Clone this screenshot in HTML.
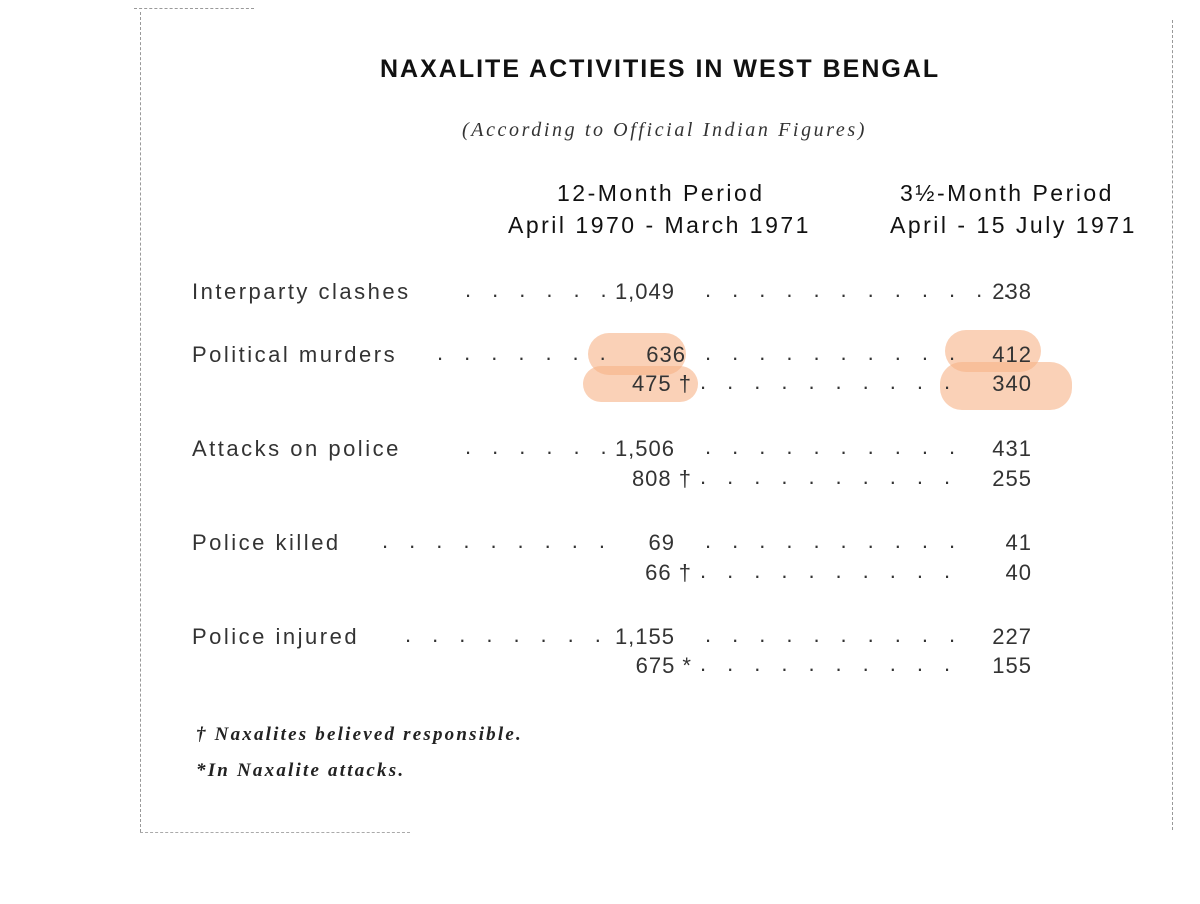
<!DOCTYPE html>
<html><head><meta charset="utf-8">
<style>
body{margin:0;width:1200px;height:904px;background:#fff;position:relative;overflow:hidden;font-family:"Liberation Sans",sans-serif;color:#222}
.a{position:absolute;white-space:nowrap}
.t{font-weight:bold;font-size:25px;letter-spacing:2px;color:#111}
.sub{font-family:"Liberation Serif",serif;font-style:italic;font-size:20px;letter-spacing:2.6px;color:#333}
.h{font-size:23px;letter-spacing:2.5px;color:#111}
.l{font-size:22px;letter-spacing:2.5px;color:#333}
.v{font-size:22px;letter-spacing:1px;color:#333;text-align:right}
.d{font-size:22px;color:#333;letter-spacing:21px}
.f{font-family:"Liberation Serif",serif;font-style:italic;font-weight:bold;font-size:19px;letter-spacing:2.2px;color:#222}
.hl{position:absolute;background:rgba(246,178,135,0.6);border-radius:22px}
.bl{position:absolute;border-left:1px dashed #999}
</style></head><body>
<div class="bl" style="left:140px;top:12px;height:820px"></div>
<div class="bl" style="left:1172px;top:20px;height:810px"></div>
<div class="a" style="left:134px;top:8px;width:120px;border-top:1px dashed #999"></div>
<div class="a" style="left:140px;top:832px;width:270px;border-top:1px dashed #aaa"></div>

<div class="hl" style="left:588px;top:333px;width:98px;height:42px"></div>
<div class="hl" style="left:583px;top:366px;width:115px;height:36px"></div>
<div class="hl" style="left:945px;top:330px;width:96px;height:42px"></div>
<div class="hl" style="left:940px;top:362px;width:132px;height:48px"></div>

<div class="a t" style="left:380px;top:55px">NAXALITE ACTIVITIES IN WEST BENGAL</div>
<div class="a sub" style="left:462px;top:119px">(According to Official Indian Figures)</div>
<div class="a h" style="left:557px;top:180px">12-Month Period</div>
<div class="a h" style="left:508px;top:212px">April 1970 - March 1971</div>
<div class="a h" style="left:900px;top:180px">3½-Month Period</div>
<div class="a h" style="left:890px;top:212px">April - 15 July 1971</div>

<div class="a l" style="left:192px;top:279px">Interparty clashes</div>
<div class="a d" style="left:465px;top:277px">......</div>
<div class="a v" style="left:560px;width:115px;top:279px">1,049</div>
<div class="a d" style="left:705px;top:277px">............</div>
<div class="a v" style="left:940px;width:92px;top:279px">238</div>

<div class="a l" style="left:192px;top:342px">Political murders</div>
<div class="a d" style="left:437px;top:340px">.......</div>
<div class="a v" style="left:560px;width:126px;top:342px">636</div>
<div class="a d" style="left:705px;top:340px">..........</div>
<div class="a v" style="left:940px;width:92px;top:342px">412</div>
<div class="a v" style="left:560px;width:132px;top:371px">475 †</div>
<div class="a d" style="left:700px;top:369px">..........</div>
<div class="a v" style="left:940px;width:92px;top:371px">340</div>

<div class="a l" style="left:192px;top:436px">Attacks on police</div>
<div class="a d" style="left:465px;top:434px">......</div>
<div class="a v" style="left:560px;width:115px;top:436px">1,506</div>
<div class="a d" style="left:705px;top:434px">..........</div>
<div class="a v" style="left:940px;width:92px;top:436px">431</div>
<div class="a v" style="left:560px;width:132px;top:466px">808 †</div>
<div class="a d" style="left:700px;top:464px">..........</div>
<div class="a v" style="left:940px;width:92px;top:466px">255</div>

<div class="a l" style="left:192px;top:530px">Police killed</div>
<div class="a d" style="left:382px;top:528px">.........</div>
<div class="a v" style="left:560px;width:115px;top:530px">69</div>
<div class="a d" style="left:705px;top:528px">..........</div>
<div class="a v" style="left:940px;width:92px;top:530px">41</div>
<div class="a v" style="left:560px;width:132px;top:560px">66 †</div>
<div class="a d" style="left:700px;top:558px">..........</div>
<div class="a v" style="left:940px;width:92px;top:560px">40</div>

<div class="a l" style="left:192px;top:624px">Police injured</div>
<div class="a d" style="left:405px;top:622px">........</div>
<div class="a v" style="left:560px;width:115px;top:624px">1,155</div>
<div class="a d" style="left:705px;top:622px">..........</div>
<div class="a v" style="left:940px;width:92px;top:624px">227</div>
<div class="a v" style="left:560px;width:132px;top:653px">675 *</div>
<div class="a d" style="left:700px;top:651px">..........</div>
<div class="a v" style="left:940px;width:92px;top:653px">155</div>

<div class="a f" style="left:196px;top:724px">† Naxalites believed responsible.</div>
<div class="a f" style="left:196px;top:760px">*In Naxalite attacks.</div>
</body></html>
